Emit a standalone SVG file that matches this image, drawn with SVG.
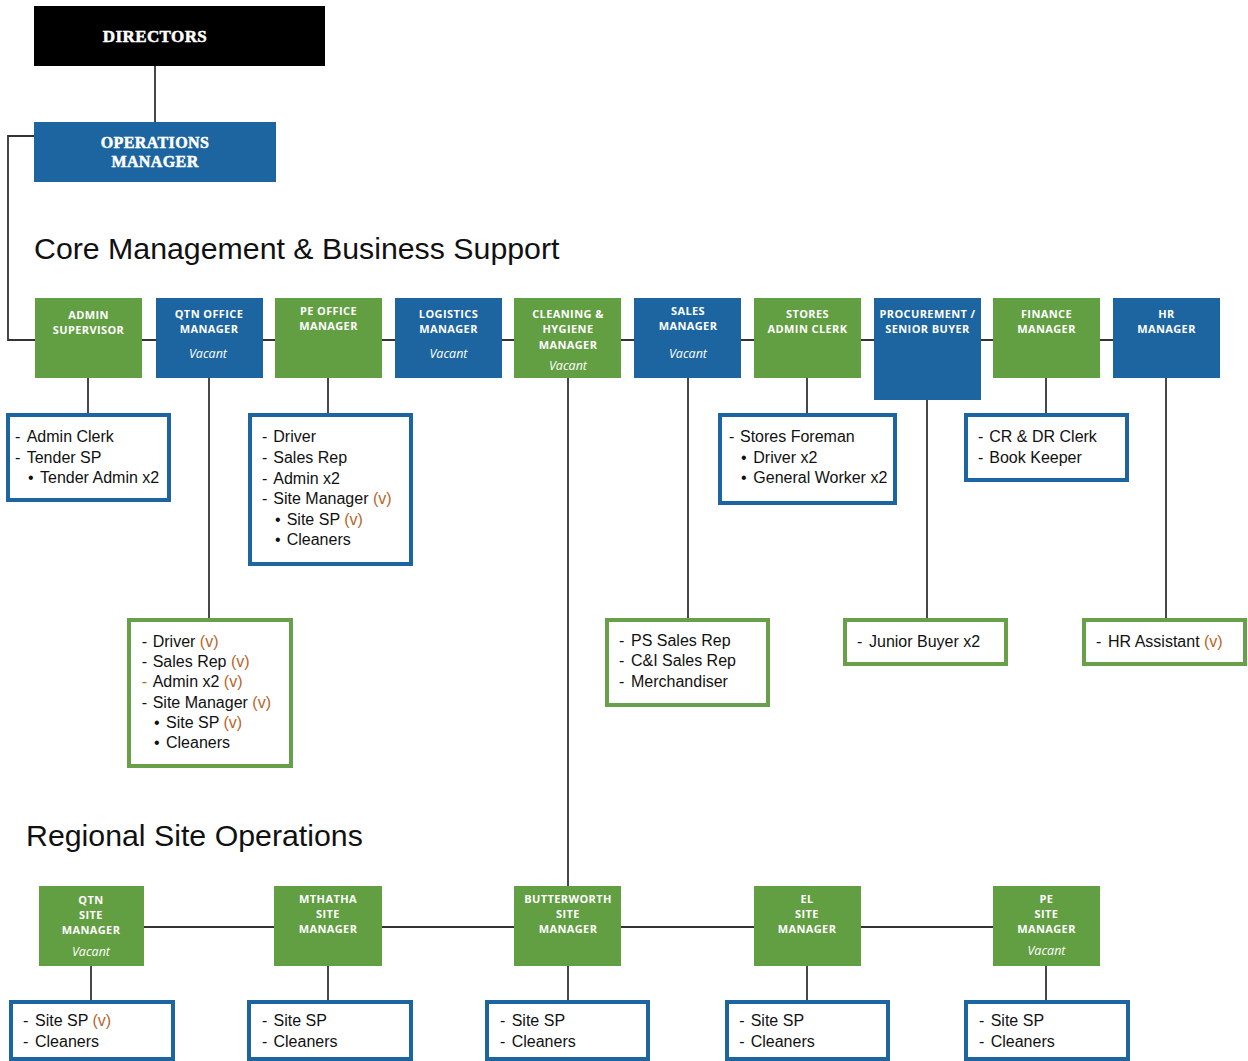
<svg xmlns="http://www.w3.org/2000/svg" width="1248" height="1061" viewBox="0 0 1248 1061">
<style>
.bg{fill:#ffffff}
.g{fill:#629e42}
.b{fill:#1c65a0}
.k{fill:#000000}
.hd{font-family:"Liberation Serif","DejaVu Serif",serif;font-weight:bold;fill:#ffffff;stroke:#ffffff;stroke-width:0.5;text-anchor:middle;letter-spacing:0.4px}
.lb{font-family:"Open Sans","DejaVu Sans",sans-serif;font-weight:700;font-size:11px;fill:#ffffff;text-anchor:middle;letter-spacing:0.4px}
.vc{font-family:"Open Sans","DejaVu Sans",sans-serif;font-style:italic;font-size:12.5px;fill:#ffffff;text-anchor:middle}
.sb{fill:#ffffff;stroke:#1c65a0;stroke-width:4}
.sg{fill:#ffffff;stroke:#67a048;stroke-width:4}
.t{font-family:"Liberation Sans",Arial,sans-serif;font-size:16px;fill:#111111}
.v{fill:#b7652b}
.ttl{font-family:"Liberation Sans",Arial,sans-serif;font-size:30.3px;fill:#111111}
.c{fill:none;stroke:#333333;stroke-width:1.8}
</style>
<rect class="bg" x="0" y="0" width="1248" height="1061"/>

<g id="connectors">
<line class="c" x1="155" y1="66" x2="155" y2="122"/>
<polyline class="c" points="34,136 8,136 8,340 1113,340"/>
<line class="c" x1="88" y1="378" x2="88" y2="414"/>
<line class="c" x1="209" y1="378" x2="209" y2="619"/>
<line class="c" x1="328" y1="378" x2="328" y2="414"/>
<line class="c" x1="568" y1="378" x2="568" y2="886"/>
<line class="c" x1="688" y1="378" x2="688" y2="619"/>
<line class="c" x1="807" y1="378" x2="807" y2="414"/>
<line class="c" x1="927" y1="400" x2="927" y2="619"/>
<line class="c" x1="1046" y1="378" x2="1046" y2="414"/>
<line class="c" x1="1166" y1="378" x2="1166" y2="619"/>
<line class="c" x1="144" y1="927" x2="993" y2="927"/>
<line class="c" x1="91" y1="966" x2="91" y2="1001"/>
<line class="c" x1="328" y1="966" x2="328" y2="1001"/>
<line class="c" x1="568" y1="966" x2="568" y2="1001"/>
<line class="c" x1="807" y1="966" x2="807" y2="1001"/>
<line class="c" x1="1046" y1="966" x2="1046" y2="1001"/>
</g>

<g id="directors">
<rect class="k" x="34" y="6" width="291" height="60"/>
<text class="hd" x="155" y="41.5" font-size="17">DIRECTORS</text>
</g>
<g id="operations-manager">
<rect class="b" x="34" y="122" width="242" height="60"/>
<text class="hd" x="155" y="148" font-size="16">OPERATIONS</text>
<text class="hd" x="155" y="166.5" font-size="16">MANAGER</text>
</g>

<text class="ttl" x="34" y="259">Core Management &amp; Business Support</text>
<text class="ttl" x="26" y="846">Regional Site Operations</text>

<g id="admin-supervisor">
<rect class="g" x="35" y="298" width="107" height="80"/>
<text class="lb" x="88.5" y="319.3">ADMIN</text>
<text class="lb" x="88.5" y="334.3">SUPERVISOR</text>
</g>
<g id="qtn-office-manager">
<rect class="b" x="156" y="298" width="107" height="80"/>
<text class="lb" x="209" y="318.3">QTN OFFICE</text>
<text class="lb" x="209" y="333.3">MANAGER</text>
<text class="vc" x="208" y="358.3">Vacant</text>
</g>
<g id="pe-office-manager">
<rect class="g" x="275" y="298" width="107" height="80"/>
<text class="lb" x="328.5" y="315">PE OFFICE</text>
<text class="lb" x="328.5" y="330">MANAGER</text>
</g>
<g id="logistics-manager">
<rect class="b" x="395" y="298" width="107" height="80"/>
<text class="lb" x="448.5" y="318.3">LOGISTICS</text>
<text class="lb" x="448.5" y="333.3">MANAGER</text>
<text class="vc" x="448.5" y="357.7">Vacant</text>
</g>
<g id="cleaning-hygiene-manager">
<rect class="g" x="514" y="298" width="107" height="80"/>
<text class="lb" x="568" y="318.3">CLEANING &amp;</text>
<text class="lb" x="568" y="333.3">HYGIENE</text>
<text class="lb" x="568" y="349">MANAGER</text>
<text class="vc" x="568" y="370">Vacant</text>
</g>
<g id="sales-manager">
<rect class="b" x="634" y="298" width="107" height="80"/>
<text class="lb" x="688" y="315.3">SALES</text>
<text class="lb" x="688" y="330">MANAGER</text>
<text class="vc" x="688" y="357.7">Vacant</text>
</g>
<g id="stores-admin-clerk">
<rect class="g" x="754" y="298" width="107" height="80"/>
<text class="lb" x="807.5" y="318.3">STORES</text>
<text class="lb" x="807.5" y="333.3">ADMIN CLERK</text>
</g>
<g id="procurement-senior-buyer">
<rect class="b" x="874" y="298" width="107" height="102"/>
<text class="lb" x="927.5" y="318.3">PROCUREMENT /</text>
<text class="lb" x="927.5" y="333.3">SENIOR BUYER</text>
</g>
<g id="finance-manager">
<rect class="g" x="993" y="298" width="107" height="80"/>
<text class="lb" x="1046.5" y="318.3">FINANCE</text>
<text class="lb" x="1046.5" y="333.3">MANAGER</text>
</g>
<g id="hr-manager">
<rect class="b" x="1113" y="298" width="107" height="80"/>
<text class="lb" x="1166.5" y="318.3">HR</text>
<text class="lb" x="1166.5" y="333.3">MANAGER</text>
</g>

<g id="admin-supervisor-staff">
<rect class="sb" x="8" y="415" width="161" height="85"/>
<text class="t" x="15" y="442.3">-</text><text class="t" x="26.7" y="442.3">Admin Clerk</text>
<text class="t" x="15" y="462.7">-</text><text class="t" x="26.7" y="462.7">Tender SP</text>
<text class="t" x="28" y="483">•</text><text class="t" x="40" y="483">Tender Admin x2</text>
</g>
<g id="pe-office-staff">
<rect class="sb" x="250" y="415" width="161" height="149"/>
<text class="t" x="262" y="442.3">-</text><text class="t" x="273.3" y="442.3">Driver</text>
<text class="t" x="262" y="463">-</text><text class="t" x="273.3" y="463">Sales Rep</text>
<text class="t" x="262" y="483.6">-</text><text class="t" x="273.3" y="483.6">Admin x2</text>
<text class="t" x="262" y="504.2">-</text><text class="t" x="273.3" y="504.2">Site Manager <tspan class="v">(v)</tspan></text>
<text class="t" x="275" y="524.8">•</text><text class="t" x="286.7" y="524.8">Site SP <tspan class="v">(v)</tspan></text>
<text class="t" x="275" y="545">•</text><text class="t" x="286.7" y="545">Cleaners</text>
</g>
<g id="stores-staff">
<rect class="sb" x="720" y="415" width="175" height="88"/>
<text class="t" x="729" y="442.3">-</text><text class="t" x="740" y="442.3">Stores Foreman</text>
<text class="t" x="741" y="462.7">•</text><text class="t" x="753.3" y="462.7">Driver x2</text>
<text class="t" x="741" y="483">•</text><text class="t" x="753.3" y="483">General Worker x2</text>
</g>
<g id="finance-staff">
<rect class="sb" x="966" y="415" width="161" height="65"/>
<text class="t" x="978" y="442.3">-</text><text class="t" x="989.3" y="442.3">CR &amp; DR Clerk</text>
<text class="t" x="978" y="462.7">-</text><text class="t" x="989.3" y="462.7">Book Keeper</text>
</g>
<g id="qtn-office-staff">
<rect class="sg" x="129" y="620" width="162" height="146"/>
<text class="t" x="141.7" y="646.7">-</text><text class="t" x="152.7" y="646.7">Driver <tspan class="v">(v)</tspan></text>
<text class="t" x="141.7" y="666.9">-</text><text class="t" x="152.7" y="666.9">Sales Rep <tspan class="v">(v)</tspan></text>
<text class="t v" x="141.7" y="687.2">-</text><text class="t" x="152.7" y="687.2">Admin x2 <tspan class="v">(v)</tspan></text>
<text class="t" x="141.7" y="707.5">-</text><text class="t" x="152.7" y="707.5">Site Manager <tspan class="v">(v)</tspan></text>
<text class="t" x="154" y="727.8">•</text><text class="t" x="166" y="727.8">Site SP <tspan class="v">(v)</tspan></text>
<text class="t" x="154" y="748">•</text><text class="t" x="166" y="748">Cleaners</text>
</g>
<g id="sales-staff">
<rect class="sg" x="607" y="620" width="161" height="85"/>
<text class="t" x="619" y="646">-</text><text class="t" x="631" y="646">PS Sales Rep</text>
<text class="t" x="619" y="666.3">-</text><text class="t" x="631" y="666.3">C&amp;I Sales Rep</text>
<text class="t" x="619" y="686.6">-</text><text class="t" x="631" y="686.6">Merchandiser</text>
</g>
<g id="procurement-staff">
<rect class="sg" x="845" y="620" width="161" height="44"/>
<text class="t" x="857" y="646.5">-</text><text class="t" x="869" y="646.5">Junior Buyer x2</text>
</g>
<g id="hr-staff">
<rect class="sg" x="1084" y="620" width="161" height="44"/>
<text class="t" x="1096" y="646.5">-</text><text class="t" x="1108" y="646.5">HR Assistant <tspan class="v">(v)</tspan></text>
</g>

<g id="qtn-site-manager">
<rect class="g" x="39" y="886" width="105" height="80"/>
<text class="lb" x="91" y="904">QTN</text>
<text class="lb" x="91" y="919">SITE</text>
<text class="lb" x="91" y="934">MANAGER</text>
<text class="vc" x="91" y="955.7">Vacant</text>
</g>
<g id="mthatha-site-manager">
<rect class="g" x="274" y="886" width="108" height="80"/>
<text class="lb" x="328" y="903.3">MTHATHA</text>
<text class="lb" x="328" y="918.3">SITE</text>
<text class="lb" x="328" y="933.3">MANAGER</text>
</g>
<g id="butterworth-site-manager">
<rect class="g" x="514" y="886" width="107" height="80"/>
<text class="lb" x="568" y="903.3">BUTTERWORTH</text>
<text class="lb" x="568" y="918.3">SITE</text>
<text class="lb" x="568" y="933.3">MANAGER</text>
</g>
<g id="el-site-manager">
<rect class="g" x="754" y="886" width="107" height="80"/>
<text class="lb" x="807" y="903.3">EL</text>
<text class="lb" x="807" y="918.3">SITE</text>
<text class="lb" x="807" y="933.3">MANAGER</text>
</g>
<g id="pe-site-manager">
<rect class="g" x="993" y="886" width="107" height="80"/>
<text class="lb" x="1046.5" y="903.3">PE</text>
<text class="lb" x="1046.5" y="918.3">SITE</text>
<text class="lb" x="1046.5" y="933.3">MANAGER</text>
<text class="vc" x="1046.5" y="955">Vacant</text>
</g>

<g id="qtn-site-staff">
<rect class="sb" x="11" y="1002" width="162" height="57"/>
<text class="t" x="23" y="1025.7">-</text><text class="t" x="35" y="1025.7">Site SP <tspan class="v">(v)</tspan></text>
<text class="t" x="23" y="1046.7">-</text><text class="t" x="35" y="1046.7">Cleaners</text>
</g>
<g id="mthatha-site-staff">
<rect class="sb" x="249" y="1002" width="162" height="57"/>
<text class="t" x="262" y="1025.7">-</text><text class="t" x="273.5" y="1025.7">Site SP</text>
<text class="t" x="262" y="1046.7">-</text><text class="t" x="273.5" y="1046.7">Cleaners</text>
</g>
<g id="butterworth-site-staff">
<rect class="sb" x="487" y="1002" width="161" height="57"/>
<text class="t" x="500" y="1025.7">-</text><text class="t" x="511.7" y="1025.7">Site SP</text>
<text class="t" x="500" y="1046.7">-</text><text class="t" x="511.7" y="1046.7">Cleaners</text>
</g>
<g id="el-site-staff">
<rect class="sb" x="727" y="1002" width="161" height="57"/>
<text class="t" x="739.3" y="1025.7">-</text><text class="t" x="750.7" y="1025.7">Site SP</text>
<text class="t" x="739.3" y="1046.7">-</text><text class="t" x="750.7" y="1046.7">Cleaners</text>
</g>
<g id="pe-site-staff">
<rect class="sb" x="966" y="1002" width="162" height="57"/>
<text class="t" x="979" y="1025.7">-</text><text class="t" x="990.7" y="1025.7">Site SP</text>
<text class="t" x="979" y="1046.7">-</text><text class="t" x="990.7" y="1046.7">Cleaners</text>
</g>
</svg>
